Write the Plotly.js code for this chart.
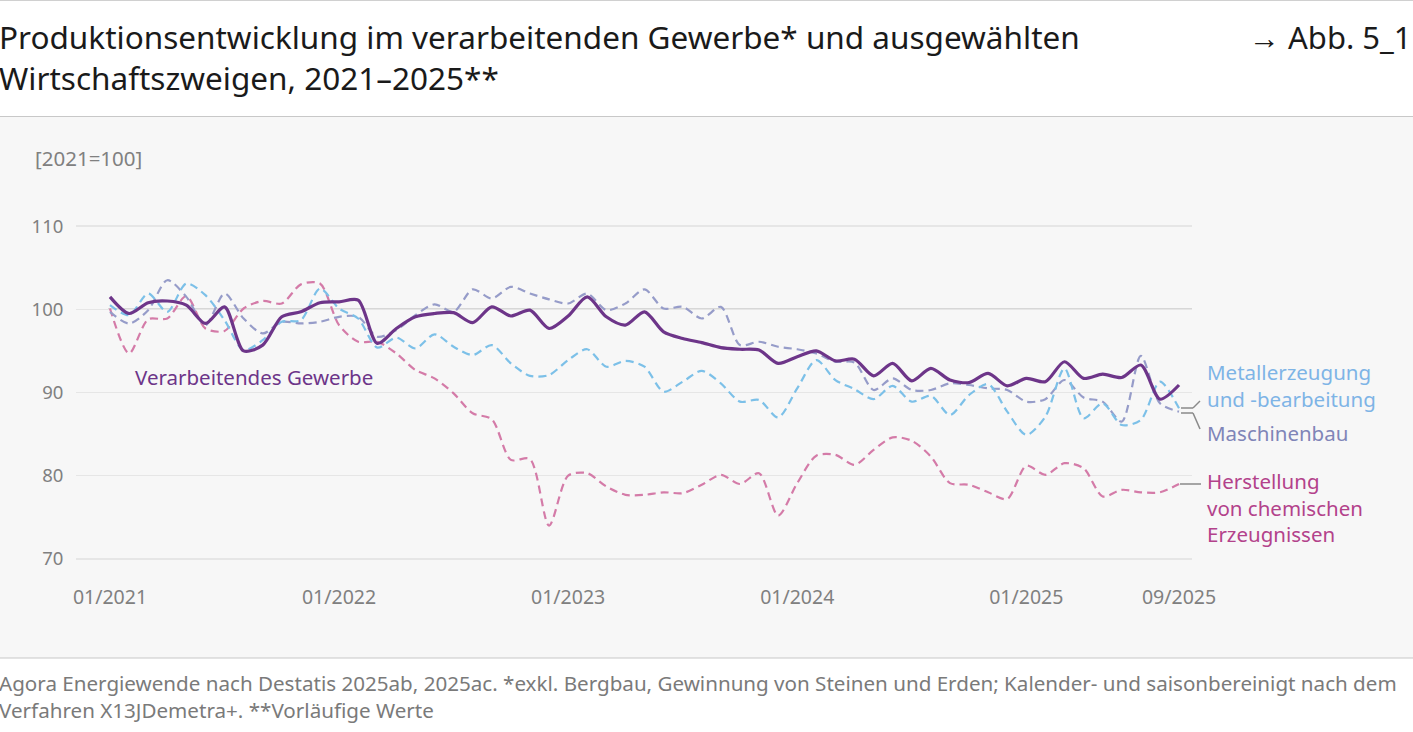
<!DOCTYPE html>
<html>
<head>
<meta charset="utf-8">
<script src="https://cdn.plot.ly/plotly-3.0.1.min.js"></script>
<style>html,body{margin:0;padding:0;background:#fff;}#chart{width:1413px;height:732px;}</style>
</head>
<body>
<div id="chart"></div>
<script>
const months = [];
for (let y = 2021; y <= 2025; y++) {
  for (let m = 1; m <= 12; m++) {
    if (y === 2025 && m > 9) break;
    months.push((m < 10 ? '0' + m : '' + m) + '/' + y);
  }
}
const tickLabels = ['01/2021', '01/2022', '01/2023', '01/2024', '01/2025', '09/2025'];
const yTicks = [70, 80, 90, 100, 110];

const verarbeitendesGewerbe = [101.5, 99.5, 100.8, 101.0, 100.5, 98.3, 100.3, 95.0, 95.7, 99.1, 99.7, 100.8,
  100.9, 101.1, 95.9, 97.7, 99.1, 99.5, 99.6, 98.4, 100.3, 99.2, 99.9, 97.7,
  99.2, 101.5, 99.1, 98.1, 99.7, 97.3, 96.5, 96.0, 95.4, 95.2, 95.1, 93.5,
  94.3, 95.0, 93.8, 94.0, 92.0, 93.5, 91.4, 92.9, 91.5, 91.2, 92.3, 90.8,
  91.7, 91.3, 93.7, 91.7, 92.2, 91.8, 93.3, 89.2, 90.9];
const metallerzeugung = [100.5, 99.3, 101.9, 99.7, 103.1, 101.7, 98.7, 95.1, 96.3, 98.5, 98.7, 102.5,
  100.1, 98.9, 95.4, 96.6, 95.3, 97.0, 95.5, 94.5, 95.7, 93.5, 92.0, 92.1,
  93.9, 95.2, 93.1, 93.8, 93.1, 90.1, 91.3, 92.6, 91.1, 88.9, 89.1, 87.0,
  90.5, 93.9, 91.5, 90.4, 89.2, 90.8, 88.9, 89.6, 87.3, 89.7, 91.0, 87.7,
  84.9, 87.1, 92.9, 86.9, 88.7, 86.1, 86.7, 91.3, 88.1];
const maschinenbau = [99.7, 98.3, 99.9, 103.5, 101.5, 98.1, 101.9, 98.9, 97.1, 98.5, 98.3, 98.5,
  99.1, 99.1, 96.7, 97.5, 99.3, 100.6, 99.7, 102.4, 101.3, 102.7, 101.9, 101.2,
  100.7, 101.9, 99.9, 100.7, 102.4, 100.1, 100.3, 98.9, 100.3, 95.7, 96.1, 95.5,
  95.2, 94.7, 93.7, 93.6, 90.3, 91.7, 90.3, 90.3, 91.1, 90.9, 90.5, 90.3,
  88.9, 89.2, 91.5, 89.4, 88.9, 86.5, 94.4, 88.7, 87.7];
const chemie = [100.1, 94.7, 98.8, 98.9, 101.6, 97.7, 97.4, 100.1, 101.0, 100.7, 103.0, 103.1,
  98.1, 96.1, 96.1, 94.7, 92.7, 91.7, 89.9, 87.5, 86.8, 81.9, 82.0, 74.0,
  80.0, 80.3, 78.7, 77.7, 77.7, 78.0, 77.9, 78.9, 80.1, 79.0, 80.3, 75.2,
  79.1, 82.4, 82.5, 81.3, 83.1, 84.6, 84.2, 82.3, 79.1, 78.9, 78.0, 77.2,
  81.2, 80.1, 81.5, 80.9, 77.5, 78.3, 78.0, 78.0, 79.0];

const FONT = 'Noto Sans, Open Sans, sans-serif';
const W = 1413, H = 732;
const L = 76, R = 221, T = 222, B = 169;
const PW = W - L - R, PH = H - T - B;
const px = x => (x - L) / PW;
const py = y => (H - B - y) / PH;

const dash = '8px,5px';
const traces = [
  {name: 'Herstellung von chemischen Erzeugnissen', y: chemie, color: '#d47ba8', width: 2.2, dash: dash},
  {name: 'Maschinenbau', y: maschinenbau, color: '#969cc9', width: 2.2, dash: dash},
  {name: 'Metallerzeugung und -bearbeitung', y: metallerzeugung, color: '#7cc0e8', width: 2.2, dash: dash},
  {name: 'Verarbeitendes Gewerbe', y: verarbeitendesGewerbe, color: '#6d3589', width: 3.2, dash: 'solid'}
].map(s => ({
  type: 'scatter', mode: 'lines', x: months, y: s.y, name: s.name,
  line: {color: s.color, width: s.width, dash: s.dash, shape: 'spline', smoothing: 0.8},
  hoverinfo: 'skip'
}));

const ann = (text, x, y, opts) => Object.assign({
  text: text, xref: 'paper', yref: 'paper', x: px(x - 2), y: py(y),
  xanchor: 'left', yanchor: 'middle', showarrow: false, align: 'left', borderpad: 0,
  font: {family: FONT, size: 19, color: '#222'}
}, opts || {});

const annotations = [
  ann('Produktionsentwicklung im verarbeitenden Gewerbe* und ausgewählten<br>Wirtschaftszweigen, 2021–2025**', 0, 57, {font: {family: FONT, size: 31.5, color: '#1a1a1a'}}),
  ann('→ Abb. 5_1', 1415, 37, {xanchor: 'right', font: {family: FONT, size: 31, color: '#1a1a1a'}}),
  ann('[2021=100]', 36, 158, {font: {family: FONT, size: 20.5, color: '#808080'}}),
  ann('Verarbeitendes Gewerbe', 136, 377, {font: {family: FONT, size: 20.5, color: '#6d3589'}}),
  ann('Metallerzeugung<br>und -bearbeitung', 1208, 385.5, {font: {family: FONT, size: 20.5, color: '#7eb4e6'}}),
  ann('Maschinenbau', 1208, 433, {font: {family: FONT, size: 20.5, color: '#7f85b8'}}),
  ann('Herstellung<br>von chemischen<br>Erzeugnissen', 1208, 507.5, {font: {family: FONT, size: 20.5, color: '#b3428b'}}),
  ann('Agora Energiewende nach Destatis 2025ab, 2025ac. *exkl. Bergbau, Gewinnung von Steinen und Erden; Kalender- und saisonbereinigt nach dem<br>Verfahren X13JDemetra+. **Vorläufige Werte', 0, 696.5, {font: {family: FONT, size: 20.6, color: '#7a7a7a'}})
];

const seg = (x0, y0, x1, y1, color, width) => ({
  type: 'line', xref: 'paper', yref: 'paper', x0: px(x0), y0: py(y0), x1: px(x1), y1: py(y1),
  line: {color: color, width: width}, layer: 'above'
});

const shapes = [
  {type: 'rect', xref: 'paper', yref: 'paper', x0: px(0), x1: px(W), y0: py(117), y1: py(658),
   fillcolor: '#f7f7f7', line: {width: 0}, layer: 'below'},
  seg(0, 116.5, W, 116.5, '#c8c8c8', 1.2),
  seg(0, 658, W, 658, '#c8c8c8', 1.2),
  seg(0, 0.5, W, 0.5, '#d0d0d0', 1),
  {type: 'line', xref: 'paper', yref: 'y', x0: px(108), x1: 1, y0: 100, y1: 100,
   line: {color: '#7a7a7a', width: 1.3}, layer: 'below'},
  seg(1181, 408, 1193, 408, '#8a8a8a', 1.5),
  seg(1193, 408, 1200, 401, '#8a8a8a', 1.5),
  seg(1181, 413, 1193, 413, '#8a8a8a', 1.5),
  seg(1193, 413, 1200, 429, '#8a8a8a', 1.5),
  seg(1180, 484, 1201, 484, '#8a8a8a', 1.5)
];

const layout = {
  width: W, height: H,
  margin: {l: L, r: R, t: T, b: B, pad: 0},
  paper_bgcolor: '#ffffff', plot_bgcolor: 'rgba(0,0,0,0)',
  showlegend: false,
  font: {family: FONT, color: '#808080'},
  xaxis: {
    type: 'category', range: [-1.78, 56.68], tickvals: tickLabels, ticktext: tickLabels,
    showgrid: false, zeroline: false, showline: false, ticks: 'outside', ticklen: 17,
    tickcolor: 'rgba(0,0,0,0)', tickfont: {family: FONT, size: 19.5, color: '#808080'}, fixedrange: true
  },
  yaxis: {
    range: [69.5, 110.5], tickvals: yTicks, showgrid: true, gridcolor: '#e6e6e6', gridwidth: 1.5,
    zeroline: false, showline: false, ticks: 'outside', ticklen: 8, tickcolor: 'rgba(0,0,0,0)',
    tickfont: {family: FONT, size: 18.5, color: '#808080'}, fixedrange: true
  },
  shapes: shapes,
  annotations: annotations
};

Plotly.newPlot('chart', traces, layout, {displayModeBar: false, staticPlot: true});
</script>
</body>
</html>
